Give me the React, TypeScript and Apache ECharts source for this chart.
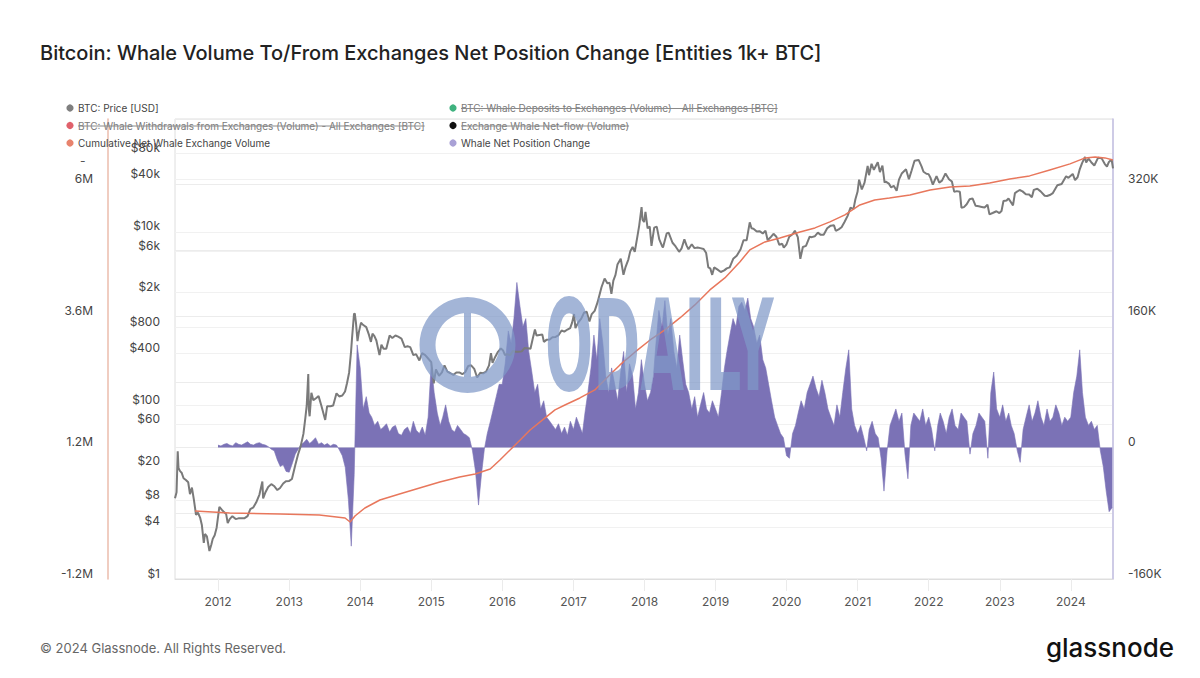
import React, { useEffect, useRef } from 'react';
import * as echarts from 'echarts';

const TITLE = 'Bitcoin: Whale Volume To/From Exchanges Net Position Change [Entities 1k+ BTC]';
const FOOTER = '© 2024 Glassnode. All Rights Reserved.';
const FONT = 'Inter, "Noto Sans", sans-serif';

const YEAR_TICKS = ['2012-01-01', '2013-01-01', '2014-01-01', '2015-01-01', '2016-01-01', '2017-01-01', '2018-01-01', '2019-01-01', '2020-01-01', '2021-01-01', '2022-01-01', '2023-01-01', '2024-01-01'];
const X_MIN = '2011-05-25';
const X_MAX = '2024-08-05';
const PRICE_TICKS = [1, 4, 8, 20, 60, 100, 400, 800, 2000, 6000, 10000, 40000, 80000];
const CUM_TICKS = [-1.2, 1.2, 3.6, 6]; // millions BTC
const NET_TICKS = [-160, 0, 160, 320]; // thousands BTC

// BTC price [USD]
const PRICE_2011: [string, number][] = [
  ['2011-05-25', 8.5], ['2011-06-02', 10], ['2011-06-08', 29.6], ['2011-06-12', 19], ['2011-06-20', 17.5], ['2011-06-28', 16.8], ['2011-07-08', 14.5], ['2011-07-20', 13.8], ['2011-08-01', 13], ['2011-08-10', 9.5], ['2011-08-20', 11.3], ['2011-08-30', 8.2], ['2011-09-10', 5.5], ['2011-09-20', 5.8], ['2011-10-01', 5.1], ['2011-10-10', 4.2], ['2011-10-20', 2.6], ['2011-10-26', 3.3], ['2011-11-05', 3.1], ['2011-11-18', 2.1], ['2011-11-28', 2.5], ['2011-12-05', 2.9], ['2011-12-15', 3.2], ['2011-12-25', 3.9],
];
const PRICE_2012: [string, number][] = [
  ['2012-01-08', 6.8], ['2012-01-20', 6.3], ['2012-02-01', 5.9], ['2012-02-12', 5.6], ['2012-02-20', 4.4], ['2012-03-01', 4.9], ['2012-03-15', 5.3], ['2012-04-01', 4.9], ['2012-04-15', 5.0], ['2012-05-01', 5.0], ['2012-05-15', 5.0], ['2012-06-01', 5.3], ['2012-06-15', 6.4], ['2012-07-01', 6.7], ['2012-07-15', 7.6], ['2012-08-01', 9.4], ['2012-08-16', 13.3], ['2012-08-20', 8.5], ['2012-09-01', 10], ['2012-09-15', 11.5], ['2012-10-01', 12.4], ['2012-10-15', 11.8], ['2012-11-01', 10.6], ['2012-11-15', 11.2], ['2012-12-01', 12.6], ['2012-12-15', 13.4],
];
const PRICE_2013: [string, number][] = [
  ['2013-01-01', 13.5], ['2013-01-15', 14.2], ['2013-02-01', 20.4], ['2013-02-15', 27], ['2013-03-01', 34], ['2013-03-15', 47], ['2013-03-25', 72], ['2013-04-01', 100], ['2013-04-09', 230], ['2013-04-12', 90], ['2013-04-16', 75], ['2013-04-25', 140], ['2013-05-05', 115], ['2013-05-20', 122], ['2013-06-01', 128], ['2013-06-15', 100], ['2013-07-05', 68], ['2013-07-15', 98], ['2013-08-01', 98], ['2013-08-15', 100], ['2013-09-01', 138], ['2013-09-15', 127], ['2013-10-01', 130], ['2013-10-15', 145], ['2013-10-25', 180], ['2013-11-05', 240], ['2013-11-15', 420], ['2013-11-20', 600], ['2013-11-30', 1130], ['2013-12-04', 1150], ['2013-12-10', 900], ['2013-12-18', 550], ['2013-12-25', 700],
];
const PRICE_2014: [string, number][] = [
  ['2014-01-05', 900], ['2014-01-15', 850], ['2014-02-01', 800], ['2014-02-15', 650], ['2014-02-25', 540], ['2014-03-05', 670], ['2014-03-15', 630], ['2014-03-25', 560], ['2014-04-10', 380], ['2014-04-20', 500], ['2014-05-01', 450], ['2014-05-15', 450], ['2014-06-01', 640], ['2014-06-15', 600], ['2014-07-01', 640], ['2014-07-15', 620], ['2014-08-01', 590], ['2014-08-18', 470], ['2014-09-01', 480], ['2014-09-15', 470], ['2014-10-01', 380], ['2014-10-15', 390], ['2014-11-01', 330], ['2014-11-15', 400], ['2014-12-01', 380], ['2014-12-15', 350],
];
const PRICE_2015: [string, number][] = [
  ['2015-01-01', 315], ['2015-01-14', 180], ['2015-01-25', 260], ['2015-02-10', 220], ['2015-02-25', 240], ['2015-03-10', 290], ['2015-03-25', 245], ['2015-04-10', 235], ['2015-04-25', 225], ['2015-05-10', 240], ['2015-05-25', 240], ['2015-06-10', 229], ['2015-06-25', 243], ['2015-07-10', 285], ['2015-07-25', 290], ['2015-08-10', 264], ['2015-08-25', 210], ['2015-09-10', 238], ['2015-09-25', 235], ['2015-10-10', 245], ['2015-10-25', 290], ['2015-11-04', 400], ['2015-11-12', 310], ['2015-11-25', 360], ['2015-12-10', 415], ['2015-12-25', 455],
];
const PRICE_2016: [string, number][] = [
  ['2016-01-05', 430], ['2016-01-15', 380], ['2016-01-25', 390], ['2016-02-10', 380], ['2016-02-25', 425], ['2016-03-10', 415], ['2016-03-25', 415], ['2016-04-10', 420], ['2016-04-25', 460], ['2016-05-10', 455], ['2016-05-25', 450], ['2016-06-05', 580], ['2016-06-17', 750], ['2016-06-25', 640], ['2016-07-10', 650], ['2016-07-25', 655], ['2016-08-02', 540], ['2016-08-15', 570], ['2016-09-01', 575], ['2016-09-15', 610], ['2016-10-01', 615], ['2016-10-15', 640], ['2016-11-01', 730], ['2016-11-15', 710], ['2016-12-01', 750], ['2016-12-15', 780], ['2016-12-25', 900],
];
const PRICE_2017: [string, number][] = [
  ['2017-01-04', 1130], ['2017-01-11', 780], ['2017-01-25', 900], ['2017-02-10', 1000], ['2017-02-25', 1180], ['2017-03-10', 1200], ['2017-03-24', 930], ['2017-04-05', 1130], ['2017-04-20', 1230], ['2017-05-05', 1550], ['2017-05-25', 2300], ['2017-06-10', 2900], ['2017-06-25', 2550], ['2017-07-05', 2600], ['2017-07-15', 1930], ['2017-07-25', 2750], ['2017-08-05', 3200], ['2017-08-15', 4200], ['2017-09-01', 4900], ['2017-09-15', 3200], ['2017-09-25', 3900], ['2017-10-10', 4800], ['2017-10-20', 6000], ['2017-11-01', 6700], ['2017-11-12', 5900], ['2017-11-25', 8700], ['2017-12-05', 11900], ['2017-12-17', 19300], ['2017-12-22', 13800], ['2017-12-30', 13000],
];
const PRICE_2018: [string, number][] = [
  ['2018-01-06', 17000], ['2018-01-17', 11000], ['2018-01-28', 11500], ['2018-02-06', 6900], ['2018-02-20', 11200], ['2018-03-05', 11500], ['2018-03-18', 8200], ['2018-04-01', 6900], ['2018-04-06', 6600], ['2018-04-25', 9600], ['2018-05-05', 9800], ['2018-05-25', 7500], ['2018-06-10', 6800], ['2018-06-28', 5900], ['2018-07-10', 6400], ['2018-07-25', 8200], ['2018-08-05', 7000], ['2018-08-15', 6300], ['2018-09-01', 7200], ['2018-09-15', 6500], ['2018-10-01', 6600], ['2018-10-15', 6500], ['2018-11-01', 6350], ['2018-11-14', 5700], ['2018-11-25', 3900], ['2018-12-05', 3800], ['2018-12-15', 3200], ['2018-12-25', 3900],
];
const PRICE_2019: [string, number][] = [
  ['2019-01-10', 3700], ['2019-01-28', 3450], ['2019-02-15', 3600], ['2019-02-28', 3800], ['2019-03-15', 3900], ['2019-04-02', 4900], ['2019-04-20', 5300], ['2019-05-10', 6300], ['2019-05-25', 8000], ['2019-06-10', 8000], ['2019-06-26', 12900], ['2019-07-05', 11000], ['2019-07-15', 10900], ['2019-08-01', 10100], ['2019-08-15', 10200], ['2019-09-01', 9600], ['2019-09-15', 10300], ['2019-09-26', 8000], ['2019-10-10', 8600], ['2019-10-26', 9500], ['2019-11-10', 8800], ['2019-11-25', 7100], ['2019-12-10', 7300], ['2019-12-18', 6600],
];
const PRICE_2020: [string, number][] = [
  ['2020-01-01', 7200], ['2020-01-15', 8800], ['2020-02-01', 9400], ['2020-02-13', 10300], ['2020-02-28', 8700], ['2020-03-12', 4900], ['2020-03-25', 6700], ['2020-04-10', 6900], ['2020-04-29', 8800], ['2020-05-10', 8700], ['2020-05-25', 8900], ['2020-06-10', 9800], ['2020-06-25', 9250], ['2020-07-10', 9250], ['2020-07-28', 11000], ['2020-08-15', 11800], ['2020-09-01', 11900], ['2020-09-10', 10300], ['2020-09-25', 10700], ['2020-10-10', 11300], ['2020-10-25', 13000], ['2020-11-10', 15300], ['2020-11-25', 19000], ['2020-12-10', 18300], ['2020-12-20', 23800], ['2020-12-31', 29000],
];
const PRICE_2021: [string, number][] = [
  ['2021-01-08', 40000], ['2021-01-22', 30800], ['2021-02-05', 37000], ['2021-02-21', 57500], ['2021-02-28', 45000], ['2021-03-13', 61000], ['2021-03-25', 52000], ['2021-04-14', 63500], ['2021-04-25', 49000], ['2021-05-08', 58000], ['2021-05-19', 37000], ['2021-05-25', 38000], ['2021-06-10', 36000], ['2021-06-22', 32500], ['2021-07-05', 34000], ['2021-07-20', 29800], ['2021-08-01', 40000], ['2021-08-15', 47000], ['2021-09-06', 52600], ['2021-09-21', 40600], ['2021-10-05', 51000], ['2021-10-20', 66000], ['2021-11-10', 67500], ['2021-11-25', 57000], ['2021-12-05', 49300], ['2021-12-20', 46800], ['2021-12-31', 46300],
];
const PRICE_2022: [string, number][] = [
  ['2022-01-10', 42000], ['2022-01-22', 35000], ['2022-02-10', 44000], ['2022-02-24', 37000], ['2022-03-10', 39000], ['2022-03-28', 47100], ['2022-04-15', 40500], ['2022-04-30', 38000], ['2022-05-12', 28900], ['2022-05-25', 29500], ['2022-06-10', 29000], ['2022-06-18', 19000], ['2022-07-01', 19300], ['2022-07-15', 20800], ['2022-07-30', 23800], ['2022-08-14', 24300], ['2022-08-30', 20000], ['2022-09-15', 19700], ['2022-09-30', 19400], ['2022-10-15', 19100], ['2022-10-30', 20600], ['2022-11-09', 15900], ['2022-11-25', 16500], ['2022-12-15', 17300], ['2022-12-30', 16500],
];
const PRICE_2023: [string, number][] = [
  ['2023-01-10', 17400], ['2023-01-20', 22700], ['2023-02-05', 23000], ['2023-02-15', 24300], ['2023-03-10', 20200], ['2023-03-20', 28000], ['2023-04-13', 30400], ['2023-04-28', 29300], ['2023-05-15', 27200], ['2023-06-01', 27000], ['2023-06-15', 25100], ['2023-06-25', 30500], ['2023-07-13', 31400], ['2023-07-30', 29300], ['2023-08-20', 26100], ['2023-09-01', 25900], ['2023-09-15', 26600], ['2023-10-01', 28000], ['2023-10-24', 34500], ['2023-11-15', 35600], ['2023-12-08', 43800], ['2023-12-20', 42000],
];
const PRICE_2024: [string, number][] = [
  ['2024-01-11', 46600], ['2024-01-23', 39500], ['2024-02-05', 42600], ['2024-02-15', 51800], ['2024-02-28', 62000], ['2024-03-14', 73000], ['2024-03-20', 63000], ['2024-04-01', 69700], ['2024-04-15', 63500], ['2024-05-01', 58200], ['2024-05-20', 71400], ['2024-06-07', 70800], ['2024-06-24', 60500], ['2024-07-05', 56700], ['2024-07-15', 64000], ['2024-07-29', 68200], ['2024-08-05', 54000],
];
const PRICE_ALL = [PRICE_2011, PRICE_2012, PRICE_2013, PRICE_2014, PRICE_2015, PRICE_2016, PRICE_2017, PRICE_2018, PRICE_2019, PRICE_2020, PRICE_2021, PRICE_2022, PRICE_2023, PRICE_2024];

// Cumulative Net Whale Exchange Volume [M BTC]
const CUMULATIVE: [string, number][] = [
  ['2011-09-05', 0.042], ['2012-03-01', 0.006], ['2012-11-15', -0.013], ['2013-06-05', -0.031], ['2013-10-15', -0.086], ['2013-11-10', -0.159], ['2013-12-05', -0.049],
  ['2014-01-25', 0.097], ['2014-04-12', 0.243], ['2014-07-22', 0.353], ['2014-11-02', 0.462], ['2015-02-14', 0.572], ['2015-05-27', 0.663], ['2015-08-15', 0.718], ['2015-10-31', 0.809], ['2015-12-20', 0.974],
  ['2016-02-10', 1.156], ['2016-04-02', 1.339], ['2016-05-23', 1.521], ['2016-08-08', 1.741], ['2016-09-28', 1.887], ['2016-11-18', 1.978], ['2017-02-03', 2.106], ['2017-04-21', 2.252], ['2017-07-06', 2.526], ['2017-08-28', 2.709], ['2017-11-14', 2.946],
  ['2018-01-30', 3.165], ['2018-04-16', 3.348], ['2018-07-02', 3.567], ['2018-09-17', 3.805], ['2018-12-03', 4.079], ['2019-02-18', 4.298], ['2019-05-06', 4.590], ['2019-06-26', 4.809], ['2019-09-12', 4.955], ['2019-11-28', 5.028],
  ['2020-03-10', 5.138], ['2020-05-26', 5.211], ['2020-08-11', 5.321], ['2020-10-27', 5.448], ['2021-01-12', 5.631], ['2021-03-29', 5.722], ['2021-06-13', 5.759], ['2021-09-26', 5.814], ['2022-01-08', 5.905], ['2022-04-20', 5.960], ['2022-07-31', 5.978], ['2022-11-10', 6.033],
  ['2023-02-21', 6.106], ['2023-06-03', 6.161], ['2023-09-15', 6.270], ['2023-12-28', 6.380], ['2024-03-15', 6.490], ['2024-05-05', 6.508], ['2024-06-25', 6.490], ['2024-08-04', 6.453],
];

// Whale Net Position Change [K BTC], two readings per month (1st and 16th)
const NET_2012 = [3, 2, 4, 5, 3, 2, 6, 4, 3, 5, 7, 4, 3, 5, 6, 4, 3, 1, -2, -4, -15, -23, -21, -29];
const NET_2013 = [-30, -20, -8, -2, 3, 6, 10, 5, 8, 12, 4, 6, 3, 5, 2, 4, 3, -3, -10, -24, -63, -120, -33, 125];
const NET_2014 = [97, 47, 62, 42, 37, 27, 32, 22, 25, 29, 19, 25, 27, 17, 15, 22, 25, 17, 32, 21, 17, 25, 15, 37];
const NET_2015 = [102, 67, 42, 27, 37, 52, 32, 22, 19, 27, 22, 17, 15, 12, -4, -28, -70, -33, -2, 17, 32, 47, 62, 77];
const NET_2016 = [77, 102, 142, 127, 157, 201, 172, 147, 157, 117, 92, 67, 77, 47, 57, 37, 32, 27, 22, 29, 17, 25, 15, 32];
const NET_2017 = [22, 37, 27, 17, 42, 67, 97, 137, 107, 157, 127, 87, 67, 97, 77, 57, 92, 117, 67, 102, 87, 47, 67, 107];
const NET_2018 = [77, 57, 67, 87, 127, 167, 147, 179, 137, 157, 117, 97, 137, 107, 77, 67, 47, 62, 37, 52, 67, 47, 42, 57];
const NET_2019 = [47, 37, 67, 97, 117, 137, 157, 147, 172, 177, 167, 182, 157, 147, 127, 137, 107, 97, 77, 57, 37, 27, 17, 12];
const NET_2020 = [-10, -13, 17, 27, 42, 57, 47, 67, 77, 87, 72, 62, 82, 67, 47, 37, 27, 52, 37, 67, 97, 119, 47, 27];
const NET_2021 = [17, 27, 12, -4, 22, 32, 17, 12, -13, -53, -4, 27, 37, 47, 32, 42, -8, -38, 27, 42, 37, 32, 47, 27];
const NET_2022 = [37, 22, -4, 27, 42, 32, 17, 37, 47, 27, 22, 42, 37, 32, -8, 17, 27, 42, 37, 32, -13, 67, 92, 47];
const NET_2023 = [37, 52, 32, 42, 27, 17, -4, -18, 22, 37, 52, 32, 42, 57, 37, 27, 47, 32, 37, 52, 42, 27, 37, 32];
const NET_2024 = [37, 67, 87, 119, 67, 37, 27, 32, 22, 27, -4, -23, -53, -78, -73];
const NET_BY_YEAR: [number, number[]][] = [
  [2012, NET_2012], [2013, NET_2013], [2014, NET_2014], [2015, NET_2015], [2016, NET_2016], [2017, NET_2017], [2018, NET_2018],
  [2019, NET_2019], [2020, NET_2020], [2021, NET_2021], [2022, NET_2022], [2023, NET_2023], [2024, NET_2024],
];

const LEGEND = [
  { name: 'BTC: Price [USD]', color: '#7f7f7f', off: false },
  { name: 'BTC: Whale Deposits to Exchanges (Volume) - All Exchanges [BTC]', color: '#3fb27f', off: true },
  { name: 'BTC: Whale Withdrawals from Exchanges (Volume) - All Exchanges [BTC]', color: '#e0616b', off: true },
  { name: 'Exchange Whale Net-flow (Volume)', color: '#111111', off: true },
  { name: 'Cumulative Net Whale Exchange Volume', color: '#e8836d', off: false },
  { name: 'Whale Net Position Change', color: '#a9a1d6', off: false },
];

const pad = (n: number) => String(n).padStart(2, '0');
const ts = (d: string) => Date.parse(d + 'T00:00:00Z');
const toXY = (rows: [string, number][]) => rows.map(([d, v]) => [ts(d), v]);

function netData(): [string, number][] {
  const out: [string, number][] = [];
  NET_BY_YEAR.forEach(([year, vals]) => {
    vals.forEach((v, i) => {
      out.push([`${year}-${pad(Math.floor(i / 2) + 1)}-${i % 2 === 0 ? '01' : '16'}`, v]);
    });
  });
  return out;
}

function measure(text: string, font: string) {
  const c = document.createElement('canvas').getContext('2d');
  if (!c) return text.length * 5;
  c.font = font;
  return c.measureText(text).width;
}

function legendGraphics() {
  const els: any[] = [];
  const legFont = `10px ${FONT}`;
  LEGEND.forEach((item, i) => {
    const col = i % 2;
    const row = Math.floor(i / 2);
    const x = col === 0 ? 70 : 453;
    const y = 108 + row * 17.5;
    els.push({ type: 'circle', shape: { cx: x, cy: y, r: 3.6 }, style: { fill: item.color }, z: 50 });
    els.push({
      type: 'text', x: x + 8, y, z: 50,
      style: { text: item.name, fill: item.off ? '#7a7a7a' : '#444', font: legFont, textVerticalAlign: 'middle' },
    });
    if (item.off) {
      const w = measure(item.name, legFont);
      els.push({ type: 'line', shape: { x1: x + 8, y1: y + 0.5, x2: x + 8 + w, y2: y + 0.5 }, style: { stroke: '#8a8a8a', lineWidth: 1 }, z: 51 });
    }
  });
  return els;
}

function priceLabel(v: number) {
  if (v >= 1000) return '$' + Math.round(v / 1000) + 'k';
  return '$' + Math.round(v);
}

export default function App() {
  const ref = useRef<HTMLDivElement>(null);
  useEffect(() => {
    if (!ref.current) return;
    const chart = echarts.init(ref.current, null, { renderer: 'svg' });
    const wm = '#7f98c8';
    const yearTs = YEAR_TICKS.map(ts);
    const priceRows: [string, number][] = ([] as [string, number][]).concat(...PRICE_ALL);
    const yLabel = { color: '#444', fontSize: 12, margin: 15, fontFamily: FONT, verticalAlign: 'bottom', lineHeight: 12 };
    const option: any = {
      animation: false,
      backgroundColor: '#ffffff',
      textStyle: { fontFamily: FONT },
      title: {
        text: TITLE, left: 40, top: 43, padding: 0,
        textStyle: { fontFamily: FONT, fontSize: 20, fontWeight: 500, color: '#222' },
      },
      grid: { left: 175, right: 87, top: 119, bottom: 99, show: true, borderColor: '#dedede', borderWidth: 1 },
      xAxis: {
        type: 'value', position: 'bottom',
        min: ts(X_MIN), max: ts(X_MAX),
        axisLine: { show: true, onZero: false, lineStyle: { color: '#dedede' } },
        axisTick: { show: true, customValues: yearTs, length: 12, lineStyle: { color: '#ebebeb' } },
        axisLabel: {
          customValues: yearTs, margin: 16, color: '#555', fontSize: 12, fontFamily: FONT,
          formatter: (v: number) => String(new Date(v).getUTCFullYear()),
        },
        splitLine: { show: false },
      },
      yAxis: [
        {
          type: 'log', logBase: 10, position: 'left', min: 1, max: 200000,
          axisLine: { show: false }, axisTick: { show: false, customValues: PRICE_TICKS },
          axisLabel: { ...yLabel, customValues: PRICE_TICKS, formatter: priceLabel },
          splitLine: { show: true, lineStyle: { color: '#f1f1f1' } },
        },
        {
          type: 'value', position: 'left', offset: 67, min: -1.2, max: 7.2,
          axisLine: { show: true, onZero: false, lineStyle: { color: '#ebbcad', width: 1.5 } }, axisTick: { show: false },
          axisLabel: { ...yLabel, customValues: CUM_TICKS, formatter: (v: number) => v + 'M' },
          splitLine: { show: false },
        },
        {
          type: 'value', position: 'right', min: -160, max: 400, interval: 80,
          axisLine: { show: true, onZero: false, lineStyle: { color: '#c3bfe3', width: 1.5 } }, axisTick: { show: false },
          axisLabel: { ...yLabel, customValues: NET_TICKS, formatter: (v: number) => (v === 0 ? '0' : v + 'K') },
          splitLine: { show: true, lineStyle: { color: '#ececec' } },
        },
      ],
      series: [
        {
          name: 'Whale Net Position Change', type: 'line', yAxisIndex: 2, data: toXY(netData()),
          showSymbol: false, symbol: 'none',
          lineStyle: { color: '#7b72b6', width: 0.6 },
          areaStyle: { color: '#7b72b6', opacity: 1 },
          z: 2,
        },
        {
          name: 'BTC: Price [USD]', type: 'line', yAxisIndex: 0, data: toXY(priceRows),
          showSymbol: false, symbol: 'none', lineStyle: { color: '#7a7a7a', width: 2 }, z: 3,
        },
        {
          name: 'Cumulative Net Whale Exchange Volume', type: 'line', yAxisIndex: 1, data: toXY(CUMULATIVE),
          showSymbol: false, symbol: 'none', lineStyle: { color: '#e8775c', width: 1.5 }, z: 4,
        },
      ],
      graphic: [
        ...legendGraphics(),
        { type: 'text', x: 80, y: 160, z: 50, style: { text: '-', fill: '#555', font: `12px ${FONT}`, textVerticalAlign: 'middle' } },
        { type: 'ring', shape: { cx: 467.5, cy: 345, r: 48, r0: 32 }, style: { fill: wm, opacity: 0.72 }, z: 100 },
        { type: 'rect', shape: { x: 464, y: 313, width: 7, height: 64 }, style: { fill: wm, opacity: 0.72 }, z: 100 },
        {
          type: 'text', x: 545, y: 346, scaleX: 0.45, z: 100,
          style: { text: 'ODAILY', fill: wm, opacity: 0.72, font: `bold 126px "DejaVu Sans"`, textVerticalAlign: 'middle' },
        },
        { type: 'text', x: 40, y: 648, z: 50, style: { text: FOOTER, fill: '#666', font: `13px ${FONT}`, textVerticalAlign: 'middle' } },
        { type: 'text', x: 1174, y: 647, z: 50, style: { text: 'glassnode', fill: '#111', font: `500 26px ${FONT}`, textAlign: 'right', textVerticalAlign: 'middle' } },
      ],
    };
    chart.setOption(option);
    return () => chart.dispose();
  }, []);
  return <div ref={ref} style={{ position: 'absolute', left: 0, top: 0, width: 1200, height: 678, background: '#fff' }} />;
}
